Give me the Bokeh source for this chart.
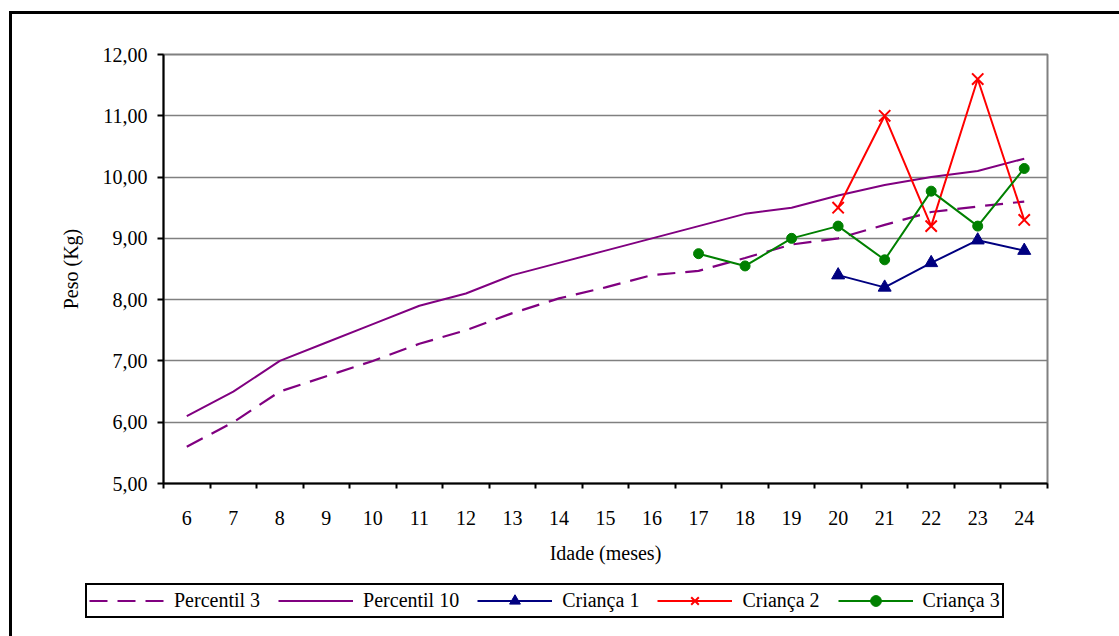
from bokeh.plotting import figure
from bokeh.layouts import column
from bokeh.models import (FixedTicker, Legend, LegendItem, Range1d)
from bokeh.embed import file_html
from bokeh.resources import INLINE

# Idade em meses e curvas de referência
meses = [6, 7, 8, 9, 10, 11, 12, 13, 14, 15, 16, 17, 18, 19, 20, 21, 22, 23, 24]
percentil_3 = [5.6, 6.0, 6.5, 6.75, 7.0, 7.28, 7.5, 7.78, 8.02, 8.2, 8.4,
               8.47, 8.68, 8.9, 9.0, 9.22, 9.43, 9.52, 9.6]
percentil_10 = [6.1, 6.5, 7.0, 7.3, 7.6, 7.9, 8.1, 8.4, 8.6, 8.8, 9.0,
                9.2, 9.4, 9.5, 9.7, 9.87, 10.0, 10.1, 10.3]

# Pesos das crianças acompanhadas
meses_c1 = [20, 21, 22, 23, 24]
crianca_1 = [8.4, 8.2, 8.6, 8.97, 8.8]
meses_c2 = [20, 21, 22, 23, 24]
crianca_2 = [9.5, 11.0, 9.2, 11.6, 9.3]
meses_c3 = [17, 18, 19, 20, 21, 22, 23, 24]
crianca_3 = [8.75, 8.55, 9.0, 9.2, 8.65, 9.77, 9.2, 10.14]

y_ticks = [5, 6, 7, 8, 9, 10, 11, 12]
nomes = ["Percentil 3", "Percentil 10", "Criança 1", "Criança 2", "Criança 3"]

FONT = "Liberation Serif"
FS = "20px"
PURPLE = "#800080"
NAVY = "#000080"
RED = "#FF0000"
GREEN = "#008000"

# Estilos de cada série (linha + marcador)
estilos = [
    dict(line=dict(line_color=PURPLE, line_width=2.2, line_dash="18 10"), marker=None),
    dict(line=dict(line_color=PURPLE, line_width=2), marker=None),
    dict(line=dict(line_color=NAVY, line_width=2),
         marker=dict(marker="triangle", size=13, fill_color=NAVY, line_color=NAVY)),
    dict(line=dict(line_color=RED, line_width=2),
         marker=dict(marker="x", size=16, line_color=RED, line_width=2)),
    dict(line=dict(line_color=GREEN, line_width=2),
         marker=dict(marker="circle", size=10, fill_color=GREEN, line_color=GREEN)),
]
series = [(meses, percentil_3), (meses, percentil_10), (meses_c1, crianca_1),
          (meses_c2, crianca_2), (meses_c3, crianca_3)]

p = figure(width=1107, height=566, output_backend="svg", toolbar_location=None,
           x_range=Range1d(5.5, 24.5), y_range=Range1d(5, 12),
           min_border_left=151, min_border_right=72,
           min_border_top=40, min_border_bottom=97)
p.frame_align = False

p.background_fill_color = "white"
p.border_fill_color = "white"
p.outline_line_color = "#808080"
p.outline_line_width = 2

# Eixo X: rótulos no centro de cada mês, marcas nas divisórias
xa = p.xaxis[0]
xa.ticker = FixedTicker(ticks=meses, minor_ticks=[m - 0.5 for m in meses] + [24.5])
xa.major_tick_out = 0
xa.major_tick_in = 0
xa.minor_tick_out = 5
xa.minor_tick_in = 0
xa.minor_tick_line_color = "black"
xa.minor_tick_line_width = 2
xa.axis_line_color = "black"
xa.axis_line_width = 2
xa.major_label_text_font = FONT
xa.major_label_text_font_size = FS
xa.major_label_text_color = "black"
xa.major_label_standoff = 22
xa.axis_label = "Idade (meses)"
xa.axis_label_text_font = FONT
xa.axis_label_text_font_size = FS
xa.axis_label_text_font_style = "normal"
xa.axis_label_text_color = "black"
xa.axis_label_standoff = 14

ya = p.yaxis[0]
ya.ticker = FixedTicker(ticks=y_ticks)
ya.major_label_overrides = {t: f"{t},00" for t in y_ticks}
ya.major_tick_out = 6
ya.major_tick_in = 0
ya.major_tick_line_color = "black"
ya.major_tick_line_width = 2
ya.minor_tick_line_color = None
ya.axis_line_color = "black"
ya.axis_line_width = 2
ya.major_label_text_font = FONT
ya.major_label_text_font_size = FS
ya.major_label_text_color = "black"
ya.major_label_standoff = 10
ya.axis_label = "Peso (Kg)"
ya.axis_label_text_font = FONT
ya.axis_label_text_font_size = FS
ya.axis_label_text_font_style = "normal"
ya.axis_label_text_color = "black"
ya.axis_label_standoff = 18

p.xgrid.grid_line_color = None
p.ygrid.grid_line_color = "#808080"
p.ygrid.grid_line_width = 1.5

for (xs, ys), est in zip(series, estilos):
    p.line(xs, ys, **est["line"])
    if est["marker"]:
        p.scatter(xs, ys, **est["marker"])

# Faixa da legenda, logo abaixo do gráfico (as séries ficam fora da vista)
pl = figure(width=1107, height=56, output_backend="svg", toolbar_location=None,
            x_range=Range1d(0, 1), y_range=Range1d(0, 1),
            x_axis_location=None, y_axis_location=None,
            min_border_left=0, min_border_right=0,
            min_border_top=0, min_border_bottom=0)
pl.frame_align = False
pl.grid.visible = False
pl.outline_line_color = None
pl.background_fill_color = "white"
pl.border_fill_color = "white"

items = []
for nome, (xs, ys), est in zip(nomes, series, estilos):
    rs = [pl.line(xs, ys, **est["line"])]
    if est["marker"]:
        rs.append(pl.scatter(xs, ys, **est["marker"]))
    items.append(LegendItem(label=nome, renderers=rs))

legend = Legend(items=items, orientation="horizontal", location=(73, 18))
legend.glyph_width = 75
legend.glyph_height = 27
legend.label_standoff = 10
legend.spacing = 18
legend.padding = 2
legend.margin = 0
legend.label_text_font = FONT
legend.label_text_font_size = FS
legend.label_text_color = "black"
legend.border_line_color = "black"
legend.border_line_width = 2
legend.border_line_alpha = 1
legend.background_fill_color = "white"
legend.background_fill_alpha = 1
pl.add_layout(legend, "center")

layout = column(p, pl, spacing=0)
layout.margin = (11, 0, 0, 9)
layout.styles = {"border-left": "3px solid black", "border-top": "3px solid black"}

open("out.html", "w").write(file_html(layout, INLINE))
